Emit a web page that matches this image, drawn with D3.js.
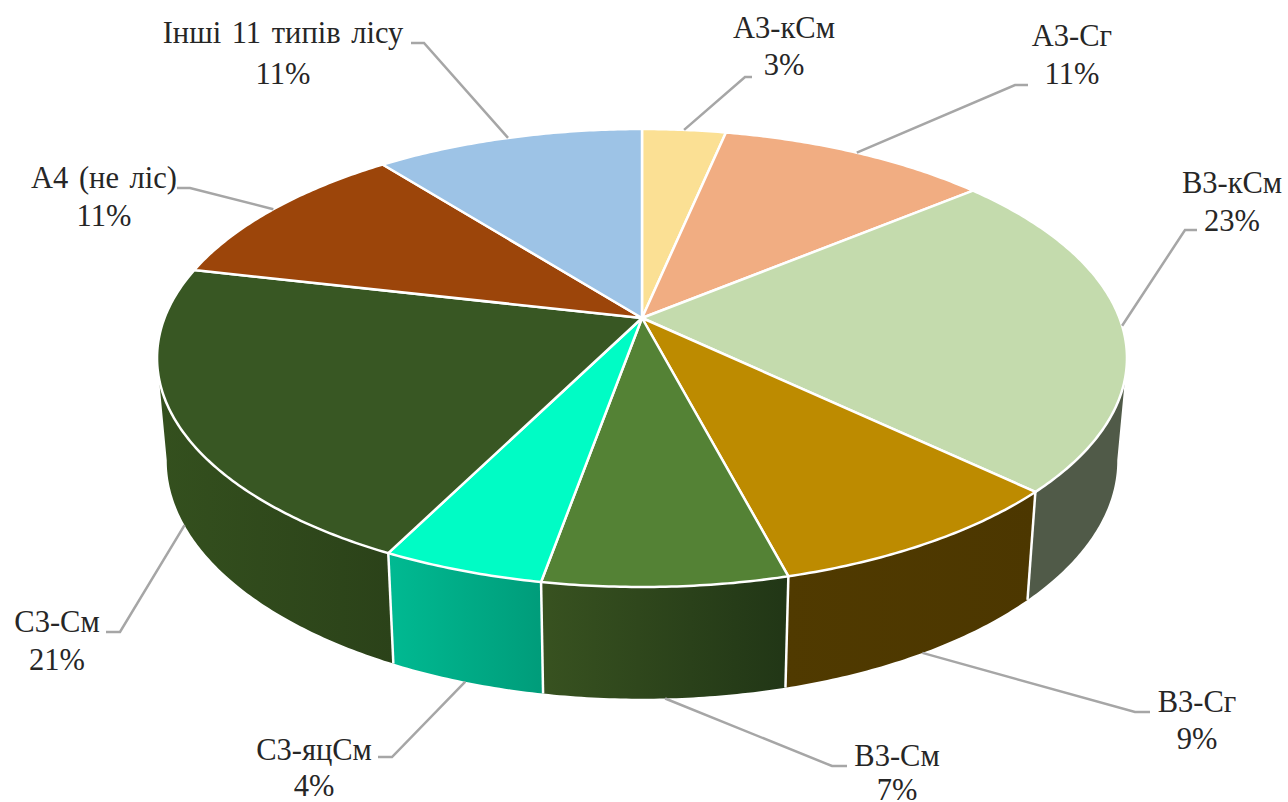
<!DOCTYPE html>
<html>
<head>
<meta charset="utf-8">
<script src="https://d3js.org/d3.v7.min.js"></script>
<style>
  html, body { margin: 0; padding: 0; background: #fff; }
  text { font-family: "Liberation Serif", serif; font-size: 30.5px; fill: #262626; text-anchor: middle; word-spacing: 3px; }
</style>
</head>
<body>
<div id="chart"></div>
<script>
// data
var names = ["А3-кСм", "А3-Сг", "В3-кСм", "В3-Сг", "В3-См", "С3-яцСм", "С3-См", "А4 (не ліс)", "Інші 11 типів лісу"];
var values = [3.3, 10.7, 23.1, 8.8, 6.9, 4.6, 21.2, 10.8, 10.6];
var percents = ["3%", "11%", "23%", "9%", "7%", "4%", "21%", "11%", "11%"];

// styles
var topColors = ["#fbe094", "#f1ad82", "#c4dbad", "#bd8b00", "#548235", "#00fcc5", "#385723", "#9c450a", "#9dc3e6"];
var wallLeft = ["#c9b376", "#c28b68", "#505a48", "#503a00", "#385220", "#00ba92", "#34501e", "#7c3708", "#7d9cb8"];
var wallRight = ["#c9b376", "#c28b68", "#505a48", "#4c3700", "#213616", "#009c7a", "#2b4219", "#7c3708", "#7d9cb8"];

// label layout: text centre, two baselines, elbow of the leader, end of the leader
var labelX = [784, 1072, 1232, 1197, 897, 314, 57, 104, 283];
var labelY1 = [38, 46, 193, 712, 766, 760, 632, 188, 43];
var labelY2 = [75, 84, 231, 749, 800, 796, 670, 226, 84];
var elbowX = [745, 1015, 1185, 1135, 832, 392, 120, 190, 424];
var elbowY = [77, 85, 230, 712, 766, 757, 632, 188, 43];
var endX = [752, 1028, 1197, 1150, 847, 378, 106, 177, 411];

var width = 1288, height = 802;

// perspective of the disc
var cx = 642, cy = 318, radiusX = 477.5, radiusY = 222, tilt = 0.1747;
// the lower rim relative to the upper one
var rimScaleX = 0.98, rimScaleY = 1.04, rimShift = 101;

function project(angle, lower) {
  var u = Math.sin(angle), v = -Math.cos(angle), d = 1 - tilt * v;
  var x = radiusX * u / d, y = radiusY * v / d;
  if (lower) { x = x * rimScaleX; y = y * rimScaleY + rimShift; }
  return [cx + x, cy + y];
}

function arcPoints(a0, a1, lower) {
  var n = Math.max(2, Math.ceil(Math.abs(a1 - a0) / 0.01));
  return d3.range(n + 1).map(function(i) { return project(a0 + (a1 - a0) * i / n, lower); });
}

var pie = d3.pie().sort(null).value(function(d) { return d; })(values);
var line = d3.line();
var wallFrom = 100 * Math.PI / 180, wallTo = 260 * Math.PI / 180;

var svg = d3.select("#chart").append("svg")
  .attr("width", width)
  .attr("height", height)
  .style("display", "block");

var defs = svg.append("defs");
pie.forEach(function(d, i) {
  var g = defs.append("linearGradient").attr("id", "wall" + i);
  g.append("stop").attr("offset", "0%").attr("stop-color", wallLeft[i]);
  g.append("stop").attr("offset", "100%").attr("stop-color", wallRight[i]);
});

// side walls
var front = pie.filter(function(d) { return d.endAngle > wallFrom && d.startAngle < wallTo; });
svg.append("g").selectAll("path")
  .data(front)
  .enter()
  .append("path")
    .attr("fill", function(d) { return "url(#wall" + d.index + ")"; })
    .attr("d", function(d) {
      var a0 = Math.max(d.startAngle, wallFrom), a1 = Math.min(d.endAngle, wallTo);
      return line(arcPoints(a0, a1, false).concat(arcPoints(a1, a0, true))) + "Z";
    });

// white seams between the walls
svg.append("g").selectAll("line")
  .data(pie.filter(function(d) { return d.startAngle > wallFrom && d.startAngle < wallTo; }))
  .enter()
  .append("line")
    .attr("x1", function(d) { return project(d.startAngle, false)[0]; })
    .attr("y1", function(d) { return project(d.startAngle, false)[1]; })
    .attr("x2", function(d) { return project(d.startAngle, true)[0]; })
    .attr("y2", function(d) { return project(d.startAngle, true)[1]; })
    .attr("stroke", "#fff")
    .attr("stroke-width", 2.5);

// top face
svg.append("g").selectAll("path")
  .data(pie)
  .enter()
  .append("path")
    .attr("fill", function(d) { return topColors[d.index]; })
    .attr("stroke", "#fff")
    .attr("stroke-width", 2.5)
    .attr("stroke-linejoin", "round")
    .attr("d", function(d) {
      return line([[cx, cy]].concat(arcPoints(d.startAngle, d.endAngle, false))) + "Z";
    });

// leaders start on whichever rim is the outer one at the slice's middle
svg.append("g").selectAll("path")
  .data(pie)
  .enter()
  .append("path")
    .attr("fill", "none")
    .attr("stroke", "#a6a6a6")
    .attr("stroke-width", 2.5)
    .attr("d", function(d) {
      var mid = (d.startAngle + d.endAngle) / 2, i = d.index;
      var start = project(mid, -Math.cos(mid) > 0.1);
      return line([start, [elbowX[i], elbowY[i]], [endX[i], elbowY[i]]]);
    });

// labels
var labels = svg.append("g").selectAll("g")
  .data(pie)
  .enter()
  .append("g");
labels.append("text")
  .attr("x", function(d) { return labelX[d.index]; })
  .attr("y", function(d) { return labelY1[d.index]; })
  .text(function(d) { return names[d.index]; });
labels.append("text")
  .attr("x", function(d) { return labelX[d.index]; })
  .attr("y", function(d) { return labelY2[d.index]; })
  .text(function(d) { return percents[d.index]; });
</script>
</body>
</html>
